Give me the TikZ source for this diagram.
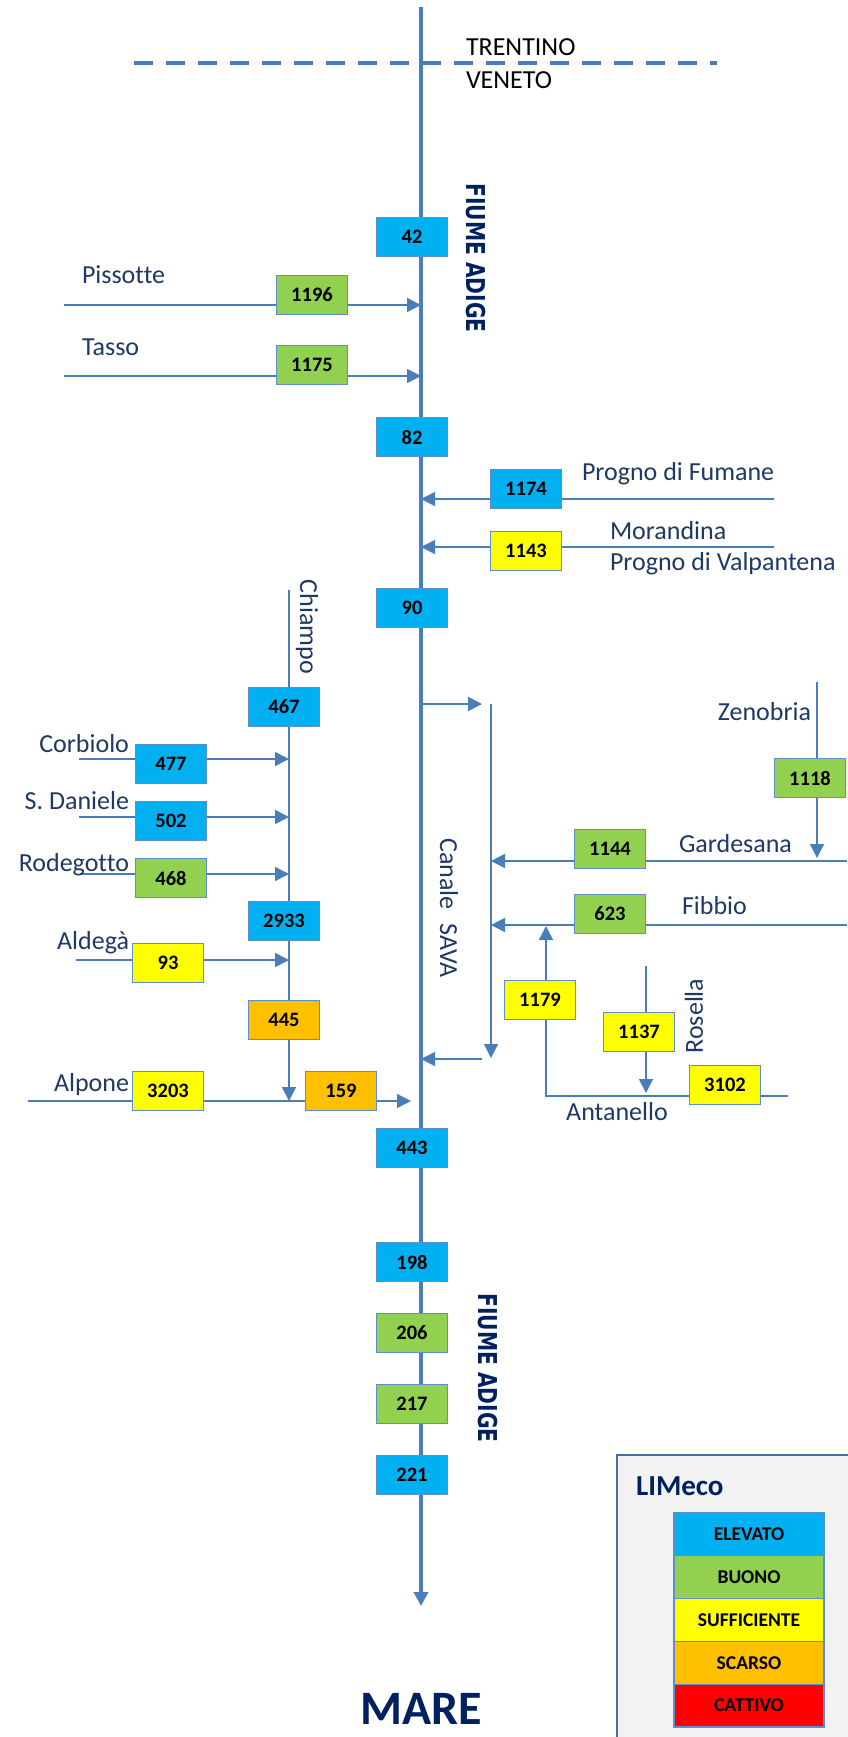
\documentclass[tikz,border=0pt]{standalone}
\usepackage{fontspec}
\setmainfont{Carlito}[Ligatures=NoCommon]
\newfontfamily\titolofont{DejaVu Sans}[FakeStretch=0.78]
\usetikzlibrary{arrows.meta}

\definecolor{elevato}{HTML}{00B0F0}
\definecolor{buono}{HTML}{92D050}
\definecolor{sufficiente}{HTML}{FFFF00}
\definecolor{scarso}{HTML}{FFC000}
\definecolor{cattivo}{HTML}{FF0000}
\definecolor{fiume}{HTML}{4A7EBB}
\definecolor{bordo}{HTML}{5B8FD0}
\definecolor{blu}{HTML}{1F3864}
\definecolor{blunotte}{HTML}{002060}
\definecolor{grigio}{HTML}{F2F2F2}
\definecolor{cornice}{HTML}{41719C}

\begin{document}
\begin{tikzpicture}[x=1pt,y=-1pt,
  every node/.style={inner sep=0pt, outer sep=0pt},
  box/.style={draw=bordo, line width=1.2pt, minimum width=71pt, minimum height=39pt, font=\bfseries\fontsize{20.5}{21}\selectfont},
  ele/.style={box, fill=elevato},
  buo/.style={box, fill=buono},
  suf/.style={box, fill=sufficiente},
  sca/.style={box, fill=scarso},
  leg/.style={draw=bordo, line width=1.2pt, minimum width=150pt, minimum height=42.8pt, font=\bfseries\fontsize{19.5}{20}\selectfont},
  riv/.style={draw=fiume, line width=1.5pt},
  flow/.style={riv, -{Triangle[length=14pt,width=14pt]}},
  lab/.style={text=blu, font=\fontsize{26}{28}\selectfont},
  titolo/.style={text=blunotte, font=\titolofont\bfseries\fontsize{26}{28}\selectfont, rotate=-90}]
\fill[white] (0,0) rectangle (847,1737);
\useasboundingbox (0,0) rectangle (847,1737);

% confine regionale
\draw[fiume, line width=4pt, dash pattern=on 19pt off 13pt] (134,63) -- (717,63);
\node[anchor=west, font=\fontsize{26}{28}\selectfont] (trentino) at (466,47) {TRENTINO};
\node[anchor=west, font=\fontsize{26}{28}\selectfont] (veneto) at (466,80) {VENETO};

% punti dei corsi d'acqua
\coordinate (sorgente) at (421,7);
\coordinate (foce) at (421,1606);
\coordinate (pis0) at (64,305);   \coordinate (pis1) at (421,305);
\coordinate (tas0) at (64,376);   \coordinate (tas1) at (421,376);
\coordinate (fum0) at (774,499);  \coordinate (fum1) at (421,499);
\coordinate (val0) at (774,547);  \coordinate (val1) at (421,547);
\coordinate (chi0) at (289,590);  \coordinate (chi1) at (289,1101);
\coordinate (cor0) at (79,759);   \coordinate (cor1) at (289,759);
\coordinate (dan0) at (79,817);   \coordinate (dan1) at (289,817);
\coordinate (rod0) at (80,874);   \coordinate (rod1) at (289,874);
\coordinate (ald0) at (76,960);   \coordinate (ald1) at (289,960);
\coordinate (alp0) at (28,1101);  \coordinate (alp1) at (411,1101);
\coordinate (sav0) at (421,704);  \coordinate (sav1) at (482,704);
\coordinate (sav2) at (491,704);  \coordinate (sav3) at (491,1058);
\coordinate (sav4) at (482,1059); \coordinate (sav5) at (421,1059);
\coordinate (zen0) at (817,682);  \coordinate (zen1) at (817,858);
\coordinate (gar0) at (847,861);  \coordinate (gar1) at (491,861);
\coordinate (fib0) at (847,925);  \coordinate (fib1) at (491,925);
\coordinate (ant0) at (788,1096); \coordinate (ant1) at (546,926);
\coordinate (ros0) at (646,966);  \coordinate (ros1) at (646,1093);

\draw[riv, line width=3.5pt, -{Triangle[length=14pt,width=14pt]}] (sorgente) -- (foce);
\draw[flow] (pis0) -- (pis1);
\draw[flow] (tas0) -- (tas1);
\draw[flow] (fum0) -- (fum1);
\draw[flow] (val0) -- (val1);
\draw[flow] (chi0) -- (chi1);
\draw[flow] (cor0) -- (cor1);
\draw[flow] (dan0) -- (dan1);
\draw[flow] (rod0) -- (rod1);
\draw[flow] (ald0) -- (ald1);
\draw[flow] (alp0) -- (alp1);
\draw[flow] (sav0) -- (sav1);
\draw[flow] (sav2) -- (sav3);
\draw[flow] (sav4) -- (sav5);
\draw[flow] (zen0) -- (zen1);
\draw[flow] (gar0) -- (gar1);
\draw[flow] (fib0) -- (fib1);
\draw[flow] (ant0) -| (ant1);
\draw[flow] (ros0) -- (ros1);

% stazioni
\node[ele] (s42) at (412,237) {42};
\node[ele] (s82) at (412,437) {82};
\node[ele] (s90) at (412,608) {90};
\node[ele] (s443) at (412,1148) {443};
\node[ele] (s198) at (412,1262) {198};
\node[buo] (s206) at (412,1333) {206};
\node[buo] (s217) at (412,1404) {217};
\node[ele] (s221) at (412,1475) {221};

\node[buo] (s1196) at (312,295) {1196};
\node[buo] (s1175) at (312,365) {1175};
\node[ele] (s1174) at (526,489) {1174};
\node[suf] (s1143) at (526,551) {1143};

\node[ele] (s467) at (284,707) {467};
\node[ele] (s2933) at (284,921) {2933};
\node[sca] (s445) at (284,1020) {445};
\node[ele] (s477) at (171,764) {477};
\node[ele] (s502) at (171,821) {502};
\node[buo] (s468) at (171,878) {468};
\node[suf] (s93) at (168,963) {93};
\node[suf] (s3203) at (168,1091) {3203};
\node[sca] (s159) at (341,1091) {159};

\node[buo] (s1118) at (810,778) {1118};
\node[buo] (s1144) at (610,849) {1144};
\node[buo] (s623) at (610,914) {623};
\node[suf] (s1179) at (540,1000) {1179};
\node[suf] (s1137) at (639,1032) {1137};
\node[suf] (s3102) at (725,1085) {3102};

% nomi
\node[titolo] (adige1) at (476,258) {FIUME ADIGE};
\node[titolo] (adige2) at (488,1368) {FIUME ADIGE};
\node[lab, anchor=west] (pissotte) at (82,275) {Pissotte};
\node[lab, anchor=west] (tasso) at (82,347) {Tasso};
\node[lab, anchor=west] (fumane) at (582,474) {Progno di Fumane};
\node[lab, anchor=west] (morandina) at (610,531) {Morandina};
\node[lab, anchor=west] (valpantena) at (610,564) {Progno di Valpantena};
\node[lab, rotate=-90] (chiampo) at (307,627) {Chiampo};
\node[lab, anchor=east] (corbiolo) at (129,744) {Corbiolo};
\node[lab, anchor=east] (daniele) at (129,801) {S. Daniele};
\node[lab, anchor=east] (rodegotto) at (129,865) {Rodegotto};
\node[lab, anchor=east] (aldega) at (129,943) {Aldegà};
\node[lab, anchor=east] (alpone) at (129,1085) {Alpone};
\node[lab, rotate=-90] (sava) at (449,908) {Canale\hspace{0.3em} SAVA};
\node[lab, anchor=east] (zenobria) at (811,712) {Zenobria};
\node[lab, anchor=west] (gardesana) at (679,844) {Gardesana};
\node[lab, anchor=west] (fibbio) at (682,906) {Fibbio};
\node[lab] (antanello) at (617,1112) {Antanello};
\node[lab, rotate=90] (rosella) at (694,1016) {Rosella};
\node[text=blunotte, font=\bfseries\fontsize{48}{50}\selectfont] (mare) at (421,1709) {MARE};

% legenda
\filldraw[fill=grigio, draw=cornice, line width=2.5pt] (617,1455) rectangle (860,1750);
\node[anchor=west, text=blunotte, font=\bfseries\fontsize{29}{30}\selectfont] (limeco) at (636,1486) {LIMeco};
\node[leg, fill=elevato] (l1) at (749,1534.4) {ELEVATO};
\node[leg, fill=buono] (l2) at (749,1577.2) {BUONO};
\node[leg, fill=sufficiente] (l3) at (749,1620) {SUFFICIENTE};
\node[leg, fill=scarso] (l4) at (749,1662.8) {SCARSO};
\node[leg, fill=cattivo] (l5) at (749,1705.6) {CATTIVO};
\end{tikzpicture}
\end{document}
